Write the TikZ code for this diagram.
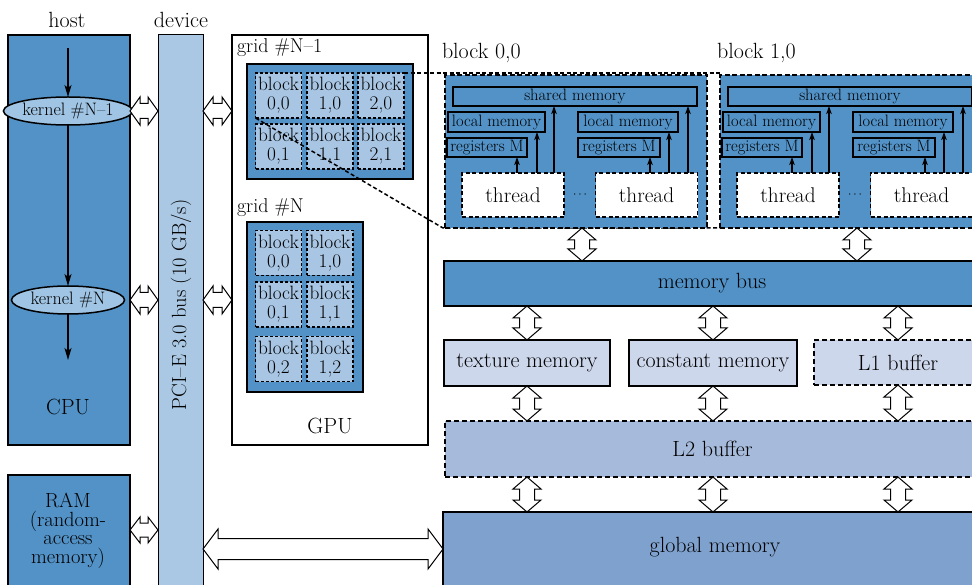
\documentclass[tikz,border=0pt]{standalone}
\usepackage{fontspec}
\usetikzlibrary{shapes.geometric,arrows.meta,calc}

\definecolor{cpublue}{RGB}{82,146,199}
\definecolor{buslight}{RGB}{170,200,227}
\definecolor{celllight}{RGB}{168,197,227}
\definecolor{kernfill}{RGB}{160,196,227}
\definecolor{memlight}{RGB}{204,215,235}
\definecolor{ltwofill}{RGB}{166,187,220}
\definecolor{globfill}{RGB}{127,161,206}

\newcommand\setfs[1]{\fontsize{#1}{#1}\selectfont}

% hollow double-headed block arrow, horizontal: #1 left tip, #2 right tip,
% #3 half head height, #4 half shaft height, #5 head length
\newcommand\harr[5]{%
  \draw[blockarrow] let \p1=(#1), \p2=(#2) in
    (\x1,\y1) -- (\x1+#5,\y1+#3) -- (\x1+#5,\y1+#4) -- (\x2-#5,\y1+#4)
    -- (\x2-#5,\y1+#3) -- (\x2,\y1) -- (\x2-#5,\y1-#3) -- (\x2-#5,\y1-#4)
    -- (\x1+#5,\y1-#4) -- (\x1+#5,\y1-#3) -- cycle;}
% same, vertical: #1 top tip, #2 bottom tip
\newcommand\varr[5]{%
  \draw[blockarrow] let \p1=(#1), \p2=(#2) in
    (\x1,\y1) -- (\x1+#3,\y1-#5) -- (\x1+#4,\y1-#5) -- (\x1+#4,\y2+#5)
    -- (\x1+#3,\y2+#5) -- (\x1,\y2) -- (\x1-#3,\y2+#5) -- (\x1-#4,\y2+#5)
    -- (\x1-#4,\y1-#5) -- (\x1-#3,\y1-#5) -- cycle;}

% contents of one thread block; #1 name prefix, #2 horizontal offset
\newcommand\blockdetail[2]{%
  \begin{scope}[xshift=#2]
    \node[blockbox] (#1) at (576,151.5) {};
    \node[membox, minimum width=244pt, minimum height=19pt] (#1sh) at (575,96.5) {shared memory};
    \node[membox, minimum width=97pt, minimum height=20pt] (#1la) at (496.5,122) {local memory};
    \node[membox, minimum width=80pt, minimum height=19pt] (#1ra) at (487,147.5) {registers M};
    \node[membox, minimum width=100pt, minimum height=20pt] (#1lb) at (628,122) {local memory};
    \node[membox, minimum width=82pt, minimum height=19pt] (#1rb) at (619,147.5) {registers M};
    \node[threadbox] (#1ta) at (513,195) {thread};
    \node[threadbox] (#1tb) at (646.5,195) {thread};
    \node[font=\setfs{13}] (#1dots) at (580,195) {$\cdots$};
  \end{scope}
  \draw[tarrow] ([xshift=4pt]#1ta.north) -- ([xshift=4pt]#1ta.north |- #1ra.south);
  \draw[tarrow] ([xshift=24pt]#1ta.north) -- ([xshift=24pt]#1ta.north |- #1la.south);
  \draw[tarrow] ([xshift=41pt]#1ta.north) -- ([xshift=41pt]#1ta.north |- #1sh.south);
  \draw[tarrow] ([xshift=3.5pt]#1tb.north) -- ([xshift=3.5pt]#1tb.north |- #1rb.south);
  \draw[tarrow] ([xshift=22.5pt]#1tb.north) -- ([xshift=22.5pt]#1tb.north |- #1lb.south);
  \draw[tarrow] ([xshift=41.5pt]#1tb.north) -- ([xshift=41.5pt]#1tb.north |- #1sh.south);
}

\begin{document}
\begin{tikzpicture}[x=1pt,y=-1pt,
  every node/.style={inner sep=0pt, outer sep=0pt},
  big/.style={font=\setfs{22}},
  solidbox/.style={draw=black, rectangle, line width=2.2pt, font=\setfs{22}},
  dashbox/.style={draw=black, rectangle, line width=2pt, dash pattern=on 5pt off 3pt, font=\setfs{22}},
  gridbox/.style={draw=black, rectangle, line width=1.5pt, fill=cpublue},
  cell/.style={draw=black, rectangle, fill=celllight, line width=1.5pt,
    dash pattern=on 3pt off 2pt, minimum width=46pt, minimum height=45pt,
    align=center, font=\fontsize{19.3}{19}\selectfont},
  kernel/.style={draw=black, ellipse, fill=kernfill, line width=1.5pt,
    minimum width=113pt, minimum height=28pt, font=\setfs{18}},
  blockbox/.style={draw=black, rectangle, fill=cpublue, line width=2.5pt,
    dash pattern=on 5pt off 2.5pt, minimum width=262pt, minimum height=153pt},
  membox/.style={draw=black, rectangle, fill=cpublue, line width=1.3pt, font=\setfs{16.5}},
  threadbox/.style={draw=black, rectangle, fill=white, line width=1.6pt,
    dash pattern=on 4pt off 2.5pt, minimum width=102pt, minimum height=44pt, font=\setfs{21.3}},
  zoomline/.style={line width=1.5pt, dash pattern=on 4pt off 2.5pt},
  flow/.style={line width=1.5pt, -{Stealth[length=12pt,width=7pt,inset=3pt]}},
  tarrow/.style={line width=1.5pt, -{Stealth[length=8pt,width=5.5pt,inset=2pt]}},
  blockarrow/.style={draw=black, fill=white, line width=1pt, line join=miter}]

\useasboundingbox (0,0) rectangle (972,585);
\clip (0,0) rectangle (972,585);

% headings
\node[big] (host) at (67,20) {host};
\node[big] (dev) at (181,20) {device};

% host side
\node[solidbox, fill=cpublue, minimum width=122pt, minimum height=410pt] (cpu) at (69,240) {};
\node[big] (cpulbl) at (68,407) {CPU};
\node[kernel] (k1) at (68,111) {kernel \#N--1};
\node[kernel] (k2) at (68,300) {kernel \#N};
\coordinate (ktop) at (68,48);
\coordinate (kbot) at (68,360);
\draw[flow] (ktop) -- (k1);
\draw[flow] (k1) -- (k2);
\draw[flow] (k2) -- (kbot);

\node[solidbox, fill=cpublue, minimum width=122pt, minimum height=130pt] (ram) at (69,540) {};
\node[align=center, font=\fontsize{20.5}{18.5}\selectfont] (ramtxt) at (68,531) {RAM\\(random-\\access\\memory)};

% PCI-E bus
\node[draw=black, line width=1pt, fill=buslight, minimum width=45pt, minimum height=580pt] (pci) at (180.5,325) {};
\node[rotate=90, font=\setfs{20.5}] (pcitxt) at (181,305) {PCI--E 3.0 bus (10 GB/s)};

% GPU with its two grids
\node[solidbox, fill=white, minimum width=196pt, minimum height=410pt] (gpu) at (330,240) {};
\node[big] (gpulbl) at (330,426) {GPU};

\node[font=\setfs{20}, anchor=west] (g1lbl) at (237,48) {grid \#N--1};
\node[gridbox, minimum width=166pt, minimum height=115pt] (g1) at (330,121.5) {};
\foreach \c/\cx in {0/278.5,1/330,2/381}
  \foreach \r/\ry in {0/95.5,1/146.5}
    \node[cell] (ga\c\r) at (\cx,\ry) {block\\\c,\r};

\node[font=\setfs{20}, anchor=west] (g2lbl) at (237,208) {grid \#N};
\node[gridbox, minimum width=116pt, minimum height=170pt] (g2) at (305,307) {};
\foreach \c/\cx in {0/278.5,1/330}
  \foreach \r/\ry in {0/253,1/304.5,2/359}
    \node[cell] (gb\c\r) at (\cx,\ry) {block\\\c,\r};

% zoom outline from block 0,0 of grid N-1
\coordinate (zTR) at (720,73);
\coordinate (zBL) at (443,228);
\coordinate (zBR) at (720,228);
\draw[zoomline] (ga20.north east) -- (zTR);
\draw[zoomline] (ga00.south west) -- (zBL) -- (zBR);

% thread blocks
\node[font=\setfs{22}, anchor=west] (b00lbl) at (442,53) {block 0,0};
\node[font=\setfs{22}, anchor=west] (b10lbl) at (717,53) {block 1,0};
\blockdetail{b00}{0pt}
\blockdetail{b10}{275pt}

% memory hierarchy
\node[solidbox, fill=cpublue, line width=2pt, minimum width=536pt, minimum height=45pt] (mbus) at (712,283.5) {memory bus};
\node[solidbox, fill=memlight, line width=2pt, minimum width=166pt, minimum height=46pt] (tex) at (527,363) {texture memory};
\node[solidbox, fill=memlight, line width=2pt, minimum width=168pt, minimum height=46pt] (cnst) at (713,363) {constant memory};
\node[dashbox, fill=memlight, minimum width=168pt, minimum height=45pt] (lone) at (898,362.5) {L1 buffer};
\node[dashbox, fill=ltwofill, minimum width=535pt, minimum height=56pt] (ltwo) at (712.5,449) {L2 buffer};
\node[solidbox, fill=globfill, minimum width=537pt, minimum height=100pt] (glob) at (711.5,562) {};
\node[big] (globtxt) at (715,547) {global memory};

% block arrows
\coordinate (ky1) at (0,111);
\coordinate (ky2) at (0,300);
\coordinate (ry) at (0,530);
\coordinate (gy) at (0,549);
\harr{cpu.east |- ky1}{pci.west |- ky1}{14pt}{7.5pt}{10pt}
\harr{pci.east |- ky1}{gpu.west |- ky1}{14pt}{7.5pt}{10pt}
\harr{cpu.east |- ky2}{pci.west |- ky2}{14pt}{7.5pt}{10pt}
\harr{pci.east |- ky2}{gpu.west |- ky2}{14pt}{7.5pt}{10pt}
\harr{ram.east |- ry}{pci.west |- ry}{13pt}{7pt}{10pt}
\harr{pci.east |- gy}{glob.west |- gy}{20pt}{10.5pt}{15pt}

\coordinate (a0) at ([xshift=6pt]b00.south);
\coordinate (a1) at ([xshift=6pt]b10.south);
\varr{a0}{a0 |- mbus.north}{14pt}{7.5pt}{12pt}
\varr{a1}{a1 |- mbus.north}{14pt}{7.5pt}{12pt}
\foreach \m in {tex,cnst,lone} {
  \varr{mbus.south -| \m.north}{\m.north}{14pt}{7.5pt}{12pt}
  \varr{\m.south}{\m.south |- ltwo.north}{14pt}{7.5pt}{12pt}
  \varr{\m.south |- ltwo.south}{\m.south |- glob.north}{14pt}{7.5pt}{12pt}
}

\end{tikzpicture}
\end{document}
